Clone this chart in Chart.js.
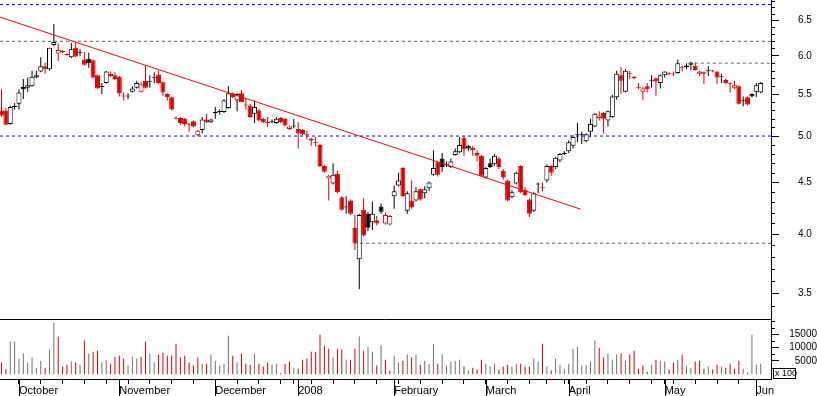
<!DOCTYPE html>
<html>
<head>
<meta charset="utf-8">
<script src="https://cdn.jsdelivr.net/npm/chart.js@4"></script>
<style>
  html, body { margin: 0; padding: 0; background: #fff; }
  #wrap { width: 817px; height: 396px; }
</style>
</head>
<body>
<div id="wrap"><canvas id="chart"></canvas></div>
<script>
// daily prices, one entry per trading day (late Sep 2007 .. early Jun 2008)
const openP = [5.30,5.30,5.14,5.34,5.38,5.59,5.58,5.60,5.71,5.79,5.86,5.82,6.15,6.03,6.06,6.02,5.98,6.11,6.04,5.95,
  5.96,5.94,5.74,5.59,5.64,5.76,5.74,5.72,5.48,5.47,5.53,5.58,5.53,5.67,5.65,5.70,5.75,5.65,5.50,5.46,
  5.21,5.21,5.20,5.14,5.17,5.01,5.07,5.19,5.16,5.27,5.29,5.28,5.33,5.51,5.42,5.51,5.37,5.36,5.26,5.30,
  5.20,5.16,5.16,5.15,5.21,5.20,5.08,5.11,5.08,5.07,5.02,4.97,4.93,4.90,4.67,4.54,4.49,4.59,4.35,4.25,
  4.32,4.06,3.78,4.23,4.19,4.11,4.13,4.26,4.10,4.09,4.36,4.47,4.65,4.22,4.32,4.32,4.43,4.39,4.44,4.58,
  4.71,4.75,4.68,4.66,4.79,4.82,4.98,4.89,4.87,4.81,4.78,4.55,4.70,4.69,4.75,4.62,4.52,4.35,4.49,4.67,
  4.42,4.33,4.22,4.48,4.45,4.52,4.67,4.66,4.73,4.80,4.83,4.89,5.01,5.01,4.94,5.05,5.11,5.21,5.27,5.18,
  5.22,5.46,5.74,5.53,5.77,5.72,5.59,5.53,5.60,5.67,5.70,5.64,5.74,5.77,5.76,5.77,5.85,5.87,5.88,5.87,
  5.76,5.76,5.80,5.80,5.79,5.72,5.68,5.64,5.58,5.60,5.41,5.46,5.50,5.53,5.52];
const highP = [5.56,5.33,5.36,5.39,5.56,5.69,5.71,5.80,5.80,5.98,5.91,6.11,6.45,6.17,6.08,6.03,6.18,6.19,6.09,6.05,
  6.04,5.95,5.75,5.64,5.80,5.79,5.78,5.73,5.52,5.51,5.60,5.67,5.65,5.87,5.74,5.78,5.80,5.66,5.51,5.47,
  5.23,5.22,5.21,5.15,5.18,5.07,5.22,5.26,5.20,5.34,5.31,5.44,5.60,5.52,5.51,5.55,5.45,5.38,5.42,5.32,
  5.21,5.22,5.19,5.22,5.22,5.21,5.12,5.20,5.16,5.08,5.06,4.98,4.99,4.91,4.68,4.58,4.70,4.62,4.36,4.36,
  4.33,4.18,4.19,4.34,4.21,4.31,4.17,4.29,4.20,4.18,4.47,4.60,4.66,4.41,4.52,4.45,4.44,4.46,4.51,4.84,
  4.72,4.81,4.72,4.75,4.86,4.99,5.00,4.90,4.89,4.84,4.79,4.66,4.75,4.80,4.77,4.64,4.53,4.42,4.61,4.68,
  4.45,4.34,4.40,4.50,4.50,4.69,4.68,4.77,4.81,4.83,4.95,5.01,5.15,5.05,5.03,5.20,5.27,5.29,5.28,5.30,
  5.49,5.80,5.85,5.82,5.80,5.73,5.64,5.59,5.64,5.74,5.71,5.75,5.79,5.78,5.79,5.95,5.87,5.90,5.92,5.91,
  5.80,5.79,5.86,5.81,5.79,5.76,5.70,5.65,5.67,5.61,5.47,5.47,5.51,5.64,5.65];
const lowP = [5.22,5.13,5.13,5.31,5.31,5.44,5.53,5.59,5.70,5.78,5.76,5.80,6.13,5.93,6.03,6.00,5.97,5.98,6.00,5.87,
  5.84,5.70,5.57,5.50,5.63,5.72,5.68,5.47,5.42,5.44,5.52,5.57,5.52,5.57,5.58,5.64,5.63,5.48,5.42,5.30,
  5.19,5.13,5.11,5.05,5.10,5.00,5.03,5.15,5.15,5.20,5.25,5.27,5.32,5.45,5.29,5.40,5.31,5.21,5.15,5.17,
  5.15,5.10,5.15,5.14,5.15,5.11,5.07,5.09,4.86,5.01,4.96,4.89,4.88,4.66,4.60,4.32,4.48,4.39,4.22,4.19,
  4.18,3.86,3.53,3.98,4.03,4.04,4.08,4.19,4.09,4.08,4.24,4.46,4.35,4.19,4.24,4.31,4.32,4.34,4.41,4.57,
  4.56,4.61,4.66,4.65,4.78,4.81,4.78,4.83,4.78,4.72,4.56,4.54,4.65,4.67,4.64,4.53,4.31,4.34,4.48,4.39,
  4.36,4.16,4.21,4.39,4.41,4.50,4.57,4.64,4.71,4.79,4.81,4.86,4.93,4.91,4.93,4.99,5.10,5.18,5.03,5.11,
  5.21,5.43,5.50,5.52,5.69,5.69,5.56,5.43,5.52,5.58,5.48,5.57,5.71,5.74,5.73,5.76,5.79,5.82,5.81,5.80,
  5.73,5.63,5.73,5.78,5.63,5.64,5.63,5.52,5.56,5.37,5.35,5.36,5.46,5.46,5.51];
const closeP = [5.24,5.13,5.34,5.35,5.52,5.56,5.61,5.72,5.74,5.86,5.82,6.11,6.19,6.08,6.05,6.01,6.09,5.99,6.05,5.88,
  5.90,5.71,5.57,5.60,5.79,5.73,5.69,5.51,5.47,5.48,5.57,5.64,5.62,5.58,5.66,5.71,5.64,5.52,5.46,5.31,
  5.20,5.15,5.14,5.13,5.11,5.06,5.19,5.16,5.19,5.27,5.28,5.42,5.51,5.46,5.50,5.40,5.36,5.22,5.34,5.18,
  5.16,5.15,5.17,5.20,5.16,5.12,5.11,5.12,5.03,5.02,5.01,4.95,4.92,4.67,4.61,4.57,4.58,4.40,4.23,4.26,
  4.19,3.92,4.18,3.99,4.06,4.19,4.10,4.21,4.18,4.17,4.41,4.52,4.36,4.39,4.25,4.41,4.33,4.43,4.50,4.65,
  4.58,4.66,4.69,4.72,4.83,4.90,4.85,4.86,4.84,4.78,4.57,4.65,4.66,4.78,4.66,4.55,4.32,4.40,4.60,4.40,
  4.37,4.19,4.39,4.49,4.44,4.67,4.60,4.76,4.80,4.81,4.93,4.99,5.02,5.02,5.02,5.14,5.26,5.24,5.20,5.29,
  5.47,5.76,5.67,5.80,5.76,5.70,5.58,5.57,5.56,5.68,5.66,5.74,5.79,5.76,5.75,5.90,5.84,5.85,5.91,5.81,
  5.79,5.78,5.81,5.79,5.71,5.73,5.64,5.63,5.61,5.38,5.42,5.37,5.47,5.61,5.64];
const prevClose = 5.30;

// volume, in hundreds of shares
const volume = [4400,2000,12300,12300,5800,7800,4400,6300,2500,5100,2500,9300,19400,14200,2900,3600,4800,4400,3600,12700,
  7800,8500,8900,4400,5500,4000,6600,7000,5900,3600,6600,5900,6600,12300,7800,4400,7400,8100,7000,7000,
  11500,6300,7000,4400,3300,6300,4000,4000,7400,5100,3300,4000,14500,7000,4400,7800,4000,3600,7800,4000,
  2900,4400,3600,4000,400,4000,4800,2500,2100,5500,5900,8500,8500,14900,10800,9600,6300,9600,9300,5500,
  5500,9600,14200,8900,10400,8500,3300,10800,5500,1400,7000,4400,5100,7400,6300,7400,3600,5100,4000,11500,
  4000,7400,3300,4800,5100,5500,2900,1400,2500,1800,5500,4000,2900,4000,1800,2900,3600,2900,4000,4000,
  2900,2900,5900,4800,11500,2900,1400,5900,3600,2100,4000,9600,10400,3300,3300,4800,12700,10000,6300,7800,
  5500,7400,7800,5100,7400,8900,2100,3300,1000,3600,5500,5100,4800,1800,4400,5500,7400,2900,2500,4800,
  5100,2100,2900,1800,3600,2900,2500,4000,2100,5100,2100,600,14900,3600,4000];

const monthTicks = [4, 27, 49, 68, 90, 111, 130, 152, 173];
const monthLabels = ["October", "November", "December", "2008", "February", "March", "April", "May", "Jun"];
const weekTicks = [9,14,19,24,29,34,39,44,54,59,64,67,71,76,81,86,91,96,101,106,116,121,125,129,134,139,144,149,154,159,164,169];
const priceTicks = [3.5, 4.0, 4.5, 5.0, 5.5, 6.0, 6.5];
const volumeTicks = [5000, 10000, 15000];

// drawn levels and trend line
const blueLevels = [6.74, 5.0];
const greyLevels = [6.2];
const shortLevelStart = [80.8, 158.9];
const shortLevelValue = [3.92, 5.9];
const trendX = [-0.35, 132.75];
const trendY = [6.55, 4.235];

const RED = "#dd0000";
const BLACK = "#000000";
const VOL_GREY = "#707070";
const FONT = "'Liberation Sans', Arial, sans-serif";
const X_MIN = -0.344;
const X_MAX = 176.37;

const candleColor = closeP.map((c, i) => (c >= (i ? closeP[i - 1] : prevClose) ? BLACK : RED));
const bodyFill = closeP.map((c, i) => (c > openP[i] ? "#ffffff" : candleColor[i]));

const bodies = openP.map((o, i) => ({ x: i, y: [Math.min(o, closeP[i]), Math.max(o, closeP[i])] }));
const wicks = lowP.map((l, i) => ({ x: i, y: [l, highP[i]] }));
const vols = volume.map((v, i) => ({ x: i, y: v }));

function levelLine(from, value, color) {
  return {
    type: "line",
    data: [{ x: from, y: value }, { x: X_MAX, y: value }],
    yAxisID: "yPrice",
    borderColor: color,
    borderWidth: 1,
    borderDash: [3, 3],
    pointRadius: 0,
    fill: false,
    order: 0,
  };
}

// fixed axis sizes, no extra label padding around the plot
function fixSize(w, h) {
  return s => {
    if (w) s.width = w;
    if (h) s.height = h;
    s.paddingTop = 0;
    s.paddingBottom = 0;
    s.paddingLeft = 0;
    s.paddingRight = 0;
  };
}

const extras = {
  id: "extras",
  afterDraw(chart) {
    const { ctx, chartArea, scales } = chart;
    const yP = scales.yPrice, yV = scales.yVol, x = scales.x;
    ctx.save();
    ctx.strokeStyle = "#000";
    ctx.lineWidth = 1;
    ctx.beginPath();
    // separator between the two panels
    const yb = Math.round(yP.bottom) + 0.5;
    ctx.moveTo(chartArea.left, yb);
    ctx.lineTo(chartArea.right, yb);
    // minor ticks
    const ax = yP.left;
    for (let k = 34; k <= 68; k++) {
      if (k % 5 === 0) continue;
      const py = Math.round(yP.getPixelForValue(k / 10)) + 0.5;
      if (py < yP.top || py > yP.bottom) continue;
      ctx.moveTo(ax, py);
      ctx.lineTo(ax + 4, py);
    }
    [2500, 7500, 12500, 17500, 20000].forEach(v => {
      const py = Math.round(yV.getPixelForValue(v)) + 0.5;
      ctx.moveTo(ax, py);
      ctx.lineTo(ax + 4, py);
    });
    // long month ticks
    monthTicks.forEach(m => {
      const px = Math.round(x.getPixelForValue(m)) + 0.5;
      ctx.moveTo(px, x.top);
      ctx.lineTo(px, x.bottom);
    });
    ctx.stroke();
    // unit box
    ctx.strokeRect(773.5, 368.5, 22, 10);
    ctx.fillStyle = "#000";
    ctx.font = "9px " + FONT;
    ctx.textBaseline = "middle";
    ctx.fillText("x 100", 775, 374);
    ctx.restore();
  },
};

new Chart(document.getElementById("chart"), {
  type: "bar",
  data: {
    datasets: [
      {
        type: "line",
        data: trendX.map((v, i) => ({ x: v, y: trendY[i] })),
        yAxisID: "yPrice",
        borderColor: "#ff0000",
        borderWidth: 1,
        pointRadius: 0,
        fill: false,
        order: 0,
      },
      ...blueLevels.map(v => levelLine(X_MIN, v, "#0000ff")),
      ...greyLevels.map(v => levelLine(X_MIN, v, "#606060")),
      ...shortLevelValue.map((v, i) => levelLine(shortLevelStart[i], v, "#606060")),
      {
        data: bodies,
        yAxisID: "yPrice",
        backgroundColor: bodyFill,
        borderColor: candleColor,
        borderWidth: 1,
        borderSkipped: false,
        barThickness: 5,
        minBarLength: 1,
        inflateAmount: 0,
        grouped: false,
        order: 1,
      },
      {
        data: wicks,
        yAxisID: "yPrice",
        backgroundColor: candleColor,
        borderWidth: 0,
        barThickness: 1,
        inflateAmount: 0,
        grouped: false,
        order: 2,
      },
      {
        data: vols,
        yAxisID: "yVol",
        backgroundColor: candleColor.map(c => (c === RED ? RED : VOL_GREY)),
        borderWidth: 0,
        barThickness: 1,
        inflateAmount: 0,
        grouped: false,
        order: 3,
      },
    ],
  },
  options: {
    responsive: true,
    maintainAspectRatio: false,
    animation: false,
    events: [],
    devicePixelRatio: 1,
    layout: { padding: 0, autoPadding: false },
    plugins: {
      legend: { display: false },
      tooltip: { enabled: false },
    },
    scales: {
      x: {
        type: "linear",
        min: X_MIN,
        max: X_MAX,
        offset: false,
        afterBuildTicks: s => {
          s.ticks = [...monthTicks, ...weekTicks].sort((a, b) => a - b).map(v => ({ value: v }));
        },
        afterFit: fixSize(0, 17),
        grid: { drawOnChartArea: false, tickLength: 5, color: "#000", offset: false },
        border: { display: true, color: "#000" },
        ticks: {
          autoSkip: false,
          maxRotation: 0,
          align: "start",
          padding: 0,
          color: "#000",
          font: { family: FONT, size: 11 },
          callback: v => {
            const k = monthTicks.indexOf(v);
            return k >= 0 ? monthLabels[k] : "";
          },
        },
      },
      yPrice: {
        type: "logarithmic",
        position: "right",
        stack: "panels",
        stackWeight: 319,
        min: 3.318,
        max: 6.81,
        afterBuildTicks: s => { s.ticks = priceTicks.map(v => ({ value: v })); },
        afterFit: fixSize(46, 0),
        grid: { drawOnChartArea: false, tickLength: 8, color: "#000" },
        border: { display: true, color: "#000" },
        ticks: {
          color: "#000",
          padding: 19,
          font: { family: FONT, size: 10 },
          callback: v => Number(v).toFixed(1),
        },
      },
      yVol: {
        type: "linear",
        position: "right",
        stack: "panels",
        stackWeight: 60,
        min: -1767,
        max: 20789,
        afterBuildTicks: s => { s.ticks = volumeTicks.map(v => ({ value: v })); },
        afterFit: fixSize(46, 0),
        grid: { drawOnChartArea: false, tickLength: 8, color: "#000" },
        border: { display: true, color: "#000" },
        ticks: {
          color: "#000",
          padding: -5,
          crossAlign: "far",
          font: { family: FONT, size: 10 },
          callback: v => String(v),
        },
      },
    },
  },
  plugins: [extras],
});
</script>
</body>
</html>
